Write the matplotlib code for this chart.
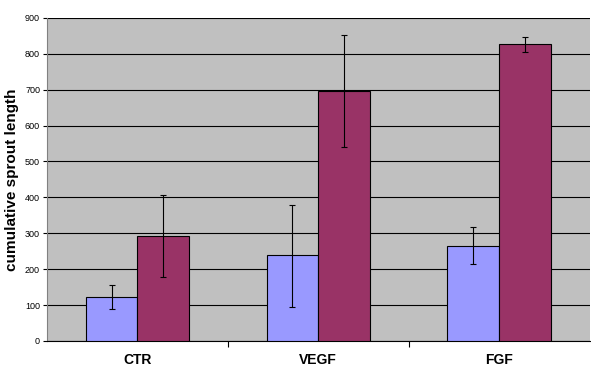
import numpy as np
import matplotlib.pyplot as plt

categories = ['CTR', 'VEGF', 'FGF']
series_a = [122, 240, 265]
series_b = [293, 695, 826]
err_a_low = [90, 95, 215]
err_a_high = [155, 380, 317]
err_b_low = [178, 540, 805]
err_b_high = [408, 852, 848]

fig = plt.figure(figsize=(5.91, 3.68), dpi=100)
ax = fig.add_axes([0.0795, 0.0734, 0.918, 0.878])
ax.set_facecolor('#C0C0C0')

x = np.arange(len(categories))
w = 0.286
ya = np.array(series_a)
yb = np.array(series_b)
ea = [ya - np.array(err_a_low), np.array(err_a_high) - ya]
eb = [yb - np.array(err_b_low), np.array(err_b_high) - yb]

ax.bar(x - w / 2, ya, w, color='#9999FF', edgecolor='black', linewidth=0.8, zorder=3,
       yerr=ea, error_kw=dict(ecolor='black', elinewidth=0.8, capsize=2.5, capthick=0.8, zorder=4))
ax.bar(x + w / 2, yb, w, color='#993366', edgecolor='black', linewidth=0.8, zorder=3,
       yerr=eb, error_kw=dict(ecolor='black', elinewidth=0.8, capsize=2.5, capthick=0.8, zorder=4))

ax.set_xlim(-0.5, len(categories) - 0.5)
ax.set_ylim(0, 900)
ax.set_yticks(np.arange(0, 901, 100))
ax.yaxis.grid(True, color='black', linewidth=0.8, zorder=1)
ax.set_axisbelow(True)

ax.set_xticks(x)
ax.set_xticklabels(categories, fontweight='bold', fontsize=10, family='Liberation Sans')
ax.tick_params(axis='x', length=0, pad=9)
ax.set_xticks(np.arange(0.5, len(categories) - 0.5, 1), minor=True)
ax.tick_params(axis='x', which='minor', length=4, width=0.8, direction='out')
ax.tick_params(axis='y', length=3, width=0.8, labelsize=6.5, pad=2)
for lab in ax.get_yticklabels():
    lab.set_family('Liberation Sans')

ax.set_ylabel('cumulative sprout length', fontweight='bold', fontsize=11,
              family='Liberation Sans', labelpad=4)

for s in ['top', 'right']:
    ax.spines[s].set_visible(False)
ax.spines['left'].set_color('#808080')
ax.spines['bottom'].set_color('black')

fig.savefig('out.png', dpi=100)
